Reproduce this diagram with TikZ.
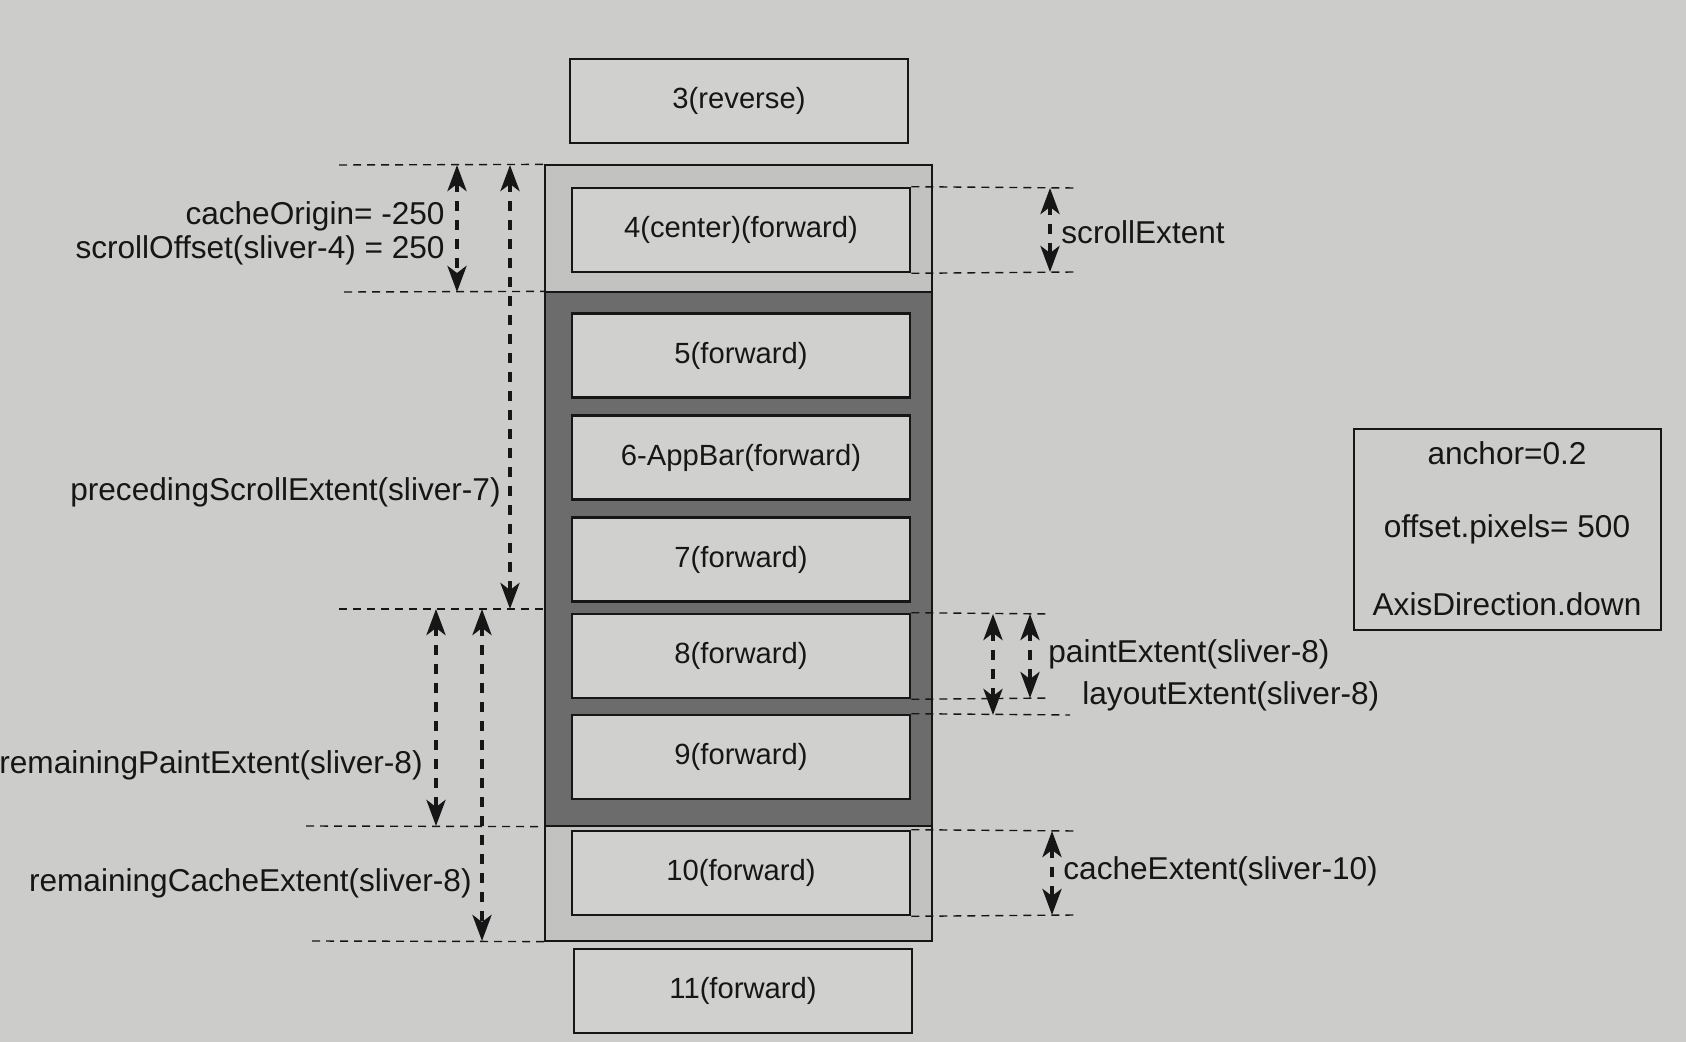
\documentclass[tikz,border=0pt]{standalone}
\usepackage{fontspec}
\setmainfont{Liberation Sans}
\usetikzlibrary{arrows.meta}
\definecolor{paper}{RGB}{204,204,202}
\definecolor{cachefill}{RGB}{194,194,192}
\definecolor{paintfill}{RGB}{108,108,108}
\definecolor{boxfill}{RGB}{208,208,206}
\definecolor{ink}{RGB}{22,22,22}
\begin{document}
\begin{tikzpicture}[x=0.5pt,y=-0.5pt,
  box/.style={draw=ink, line width=1.3pt, fill=boxfill, minimum width=169pt, minimum height=42pt, inner sep=0pt, font=\fontsize{14.6}{16}\selectfont, text=ink},
  region/.style={draw=ink, line width=0.6pt, inner sep=0pt},
  guide/.style={draw=ink, line width=0.7pt, dash pattern=on 4pt off 3pt},
  dimarrow/.style={draw=ink, line width=2.1pt, dash pattern=on 5pt off 4.5pt,
    {Stealth[length=13pt,width=9.5pt,inset=3.5pt]}-{Stealth[length=13pt,width=9.5pt,inset=3.5pt]}},
  lbl/.style={font=\fontsize{15.8}{18}\selectfont, text=ink, inner sep=1pt},
]
% background / page
\path[fill=paper] (0,0) rectangle (1686,1042);
\useasboundingbox (0,0) rectangle (1686,1042);

% regions
\node[region, fill=cachefill, minimum width=193.5pt, minimum height=388pt] (cache) at (738.5,553) {};
\node[region, fill=paintfill, minimum width=193.5pt, minimum height=267pt] (paint) at (738.5,559) {};

% boxes
\node[box] (b3) at (739,101) {3(reverse)};
\node[box] (b4) at (741,230) {4(center)(forward)};
\node[box] (b5) at (741,355.5) {5(forward)};
\node[box] (b6) at (741,457.5) {6-AppBar(forward)};
\node[box] (b7) at (741,559.5) {7(forward)};
\node[box] (b8) at (741,656) {8(forward)};
\node[box] (b9) at (741,757) {9(forward)};
\node[box] (b10) at (741,873) {10(forward)};
\node[box] (b11) at (743,991) {11(forward)};

% left guide lines
\coordinate (gl1) at (339,165);
\coordinate (gl2) at (344,292);
\coordinate (gl3) at (339,609);
\coordinate (gl3e) at (545,609);
\coordinate (gl4) at (306,826);
\coordinate (gl5) at (312,941);
\draw[guide] (gl1) -- (cache.north west);
\draw[guide] (gl2) -- (paint.north west);
\draw[guide] (gl3) -- (gl3e);
\draw[guide] (gl4) -- (paint.south west);
\draw[guide] (gl5) -- (cache.south west);

% left arrows
\coordinate (co1) at (457,165); \coordinate (co2) at (457,292);
\coordinate (ps1) at (510,165); \coordinate (ps2) at (510,609);
\coordinate (rp1) at (436,609); \coordinate (rp2) at (436,826);
\coordinate (rc1) at (482,609); \coordinate (rc2) at (482,941);
\draw[dimarrow] (co1) -- (co2);
\draw[dimarrow] (ps1) -- (ps2);
\draw[dimarrow] (rp1) -- (rp2);
\draw[dimarrow] (rc1) -- (rc2);

% left labels
\node[lbl, anchor=east] (lco) at (447,216) {cacheOrigin= -250};
\node[lbl, anchor=east] (lso) at (447,250) {scrollOffset(sliver-4) = 250};
\node[lbl, anchor=east] (lps) at (503,492) {precedingScrollExtent(sliver-7)};
\node[lbl, anchor=east] (lrp) at (425,765) {remainingPaintExtent(sliver-8)};
\node[lbl, anchor=east] (lrc) at (474,883) {remainingCacheExtent(sliver-8)};

% right: scrollExtent
\coordinate (se1) at (1075,188); \coordinate (se2) at (1075,272);
\draw[guide] (b4.north east) -- (se1);
\draw[guide] (b4.south east) -- (se2);
\coordinate (sea) at (1050,188); \coordinate (seb) at (1050,272);
\draw[dimarrow] (sea) -- (seb);
\node[lbl, anchor=west] (lse) at (1059,232) {scrollExtent};

% right: paint / layout extent
\coordinate (pe1) at (1050,614); \coordinate (pe2) at (1050,698);
\coordinate (le2) at (1070,715);
\draw[guide] (b8.north east) -- (pe1);
\draw[guide] (b8.south east) -- (pe2);
\draw[guide] (b9.north east) -- (le2);
\coordinate (la) at (993,614); \coordinate (lb) at (993,715);
\coordinate (pa) at (1030,614); \coordinate (pb) at (1030,698);
\draw[dimarrow] (la) -- (lb);
\draw[dimarrow] (pa) -- (pb);
\node[lbl, anchor=west] (lpe) at (1046,654) {paintExtent(sliver-8)};
\node[lbl, anchor=west] (lle) at (1080,696) {layoutExtent(sliver-8)};

% right: cacheExtent
\coordinate (ce1) at (1075,831); \coordinate (ce2) at (1075,915);
\draw[guide] (b10.north east) -- (ce1);
\draw[guide] (b10.south east) -- (ce2);
\coordinate (cea) at (1052,831); \coordinate (ceb) at (1052,915);
\draw[dimarrow] (cea) -- (ceb);
\node[lbl, anchor=west] (lce) at (1061,871) {cacheExtent(sliver-10)};

% anchor box
\node[draw=ink, line width=1pt, minimum width=153.5pt, minimum height=100.5pt, inner sep=0pt] (abox) at (1507.5,529.5) {};
\node[lbl] (a1) at (1507,453) {anchor=0.2};
\node[lbl] (a2) at (1507,529) {offset.pixels= 500};
\node[lbl] (a3) at (1507,604) {AxisDirection.down};
\end{tikzpicture}
\end{document}
